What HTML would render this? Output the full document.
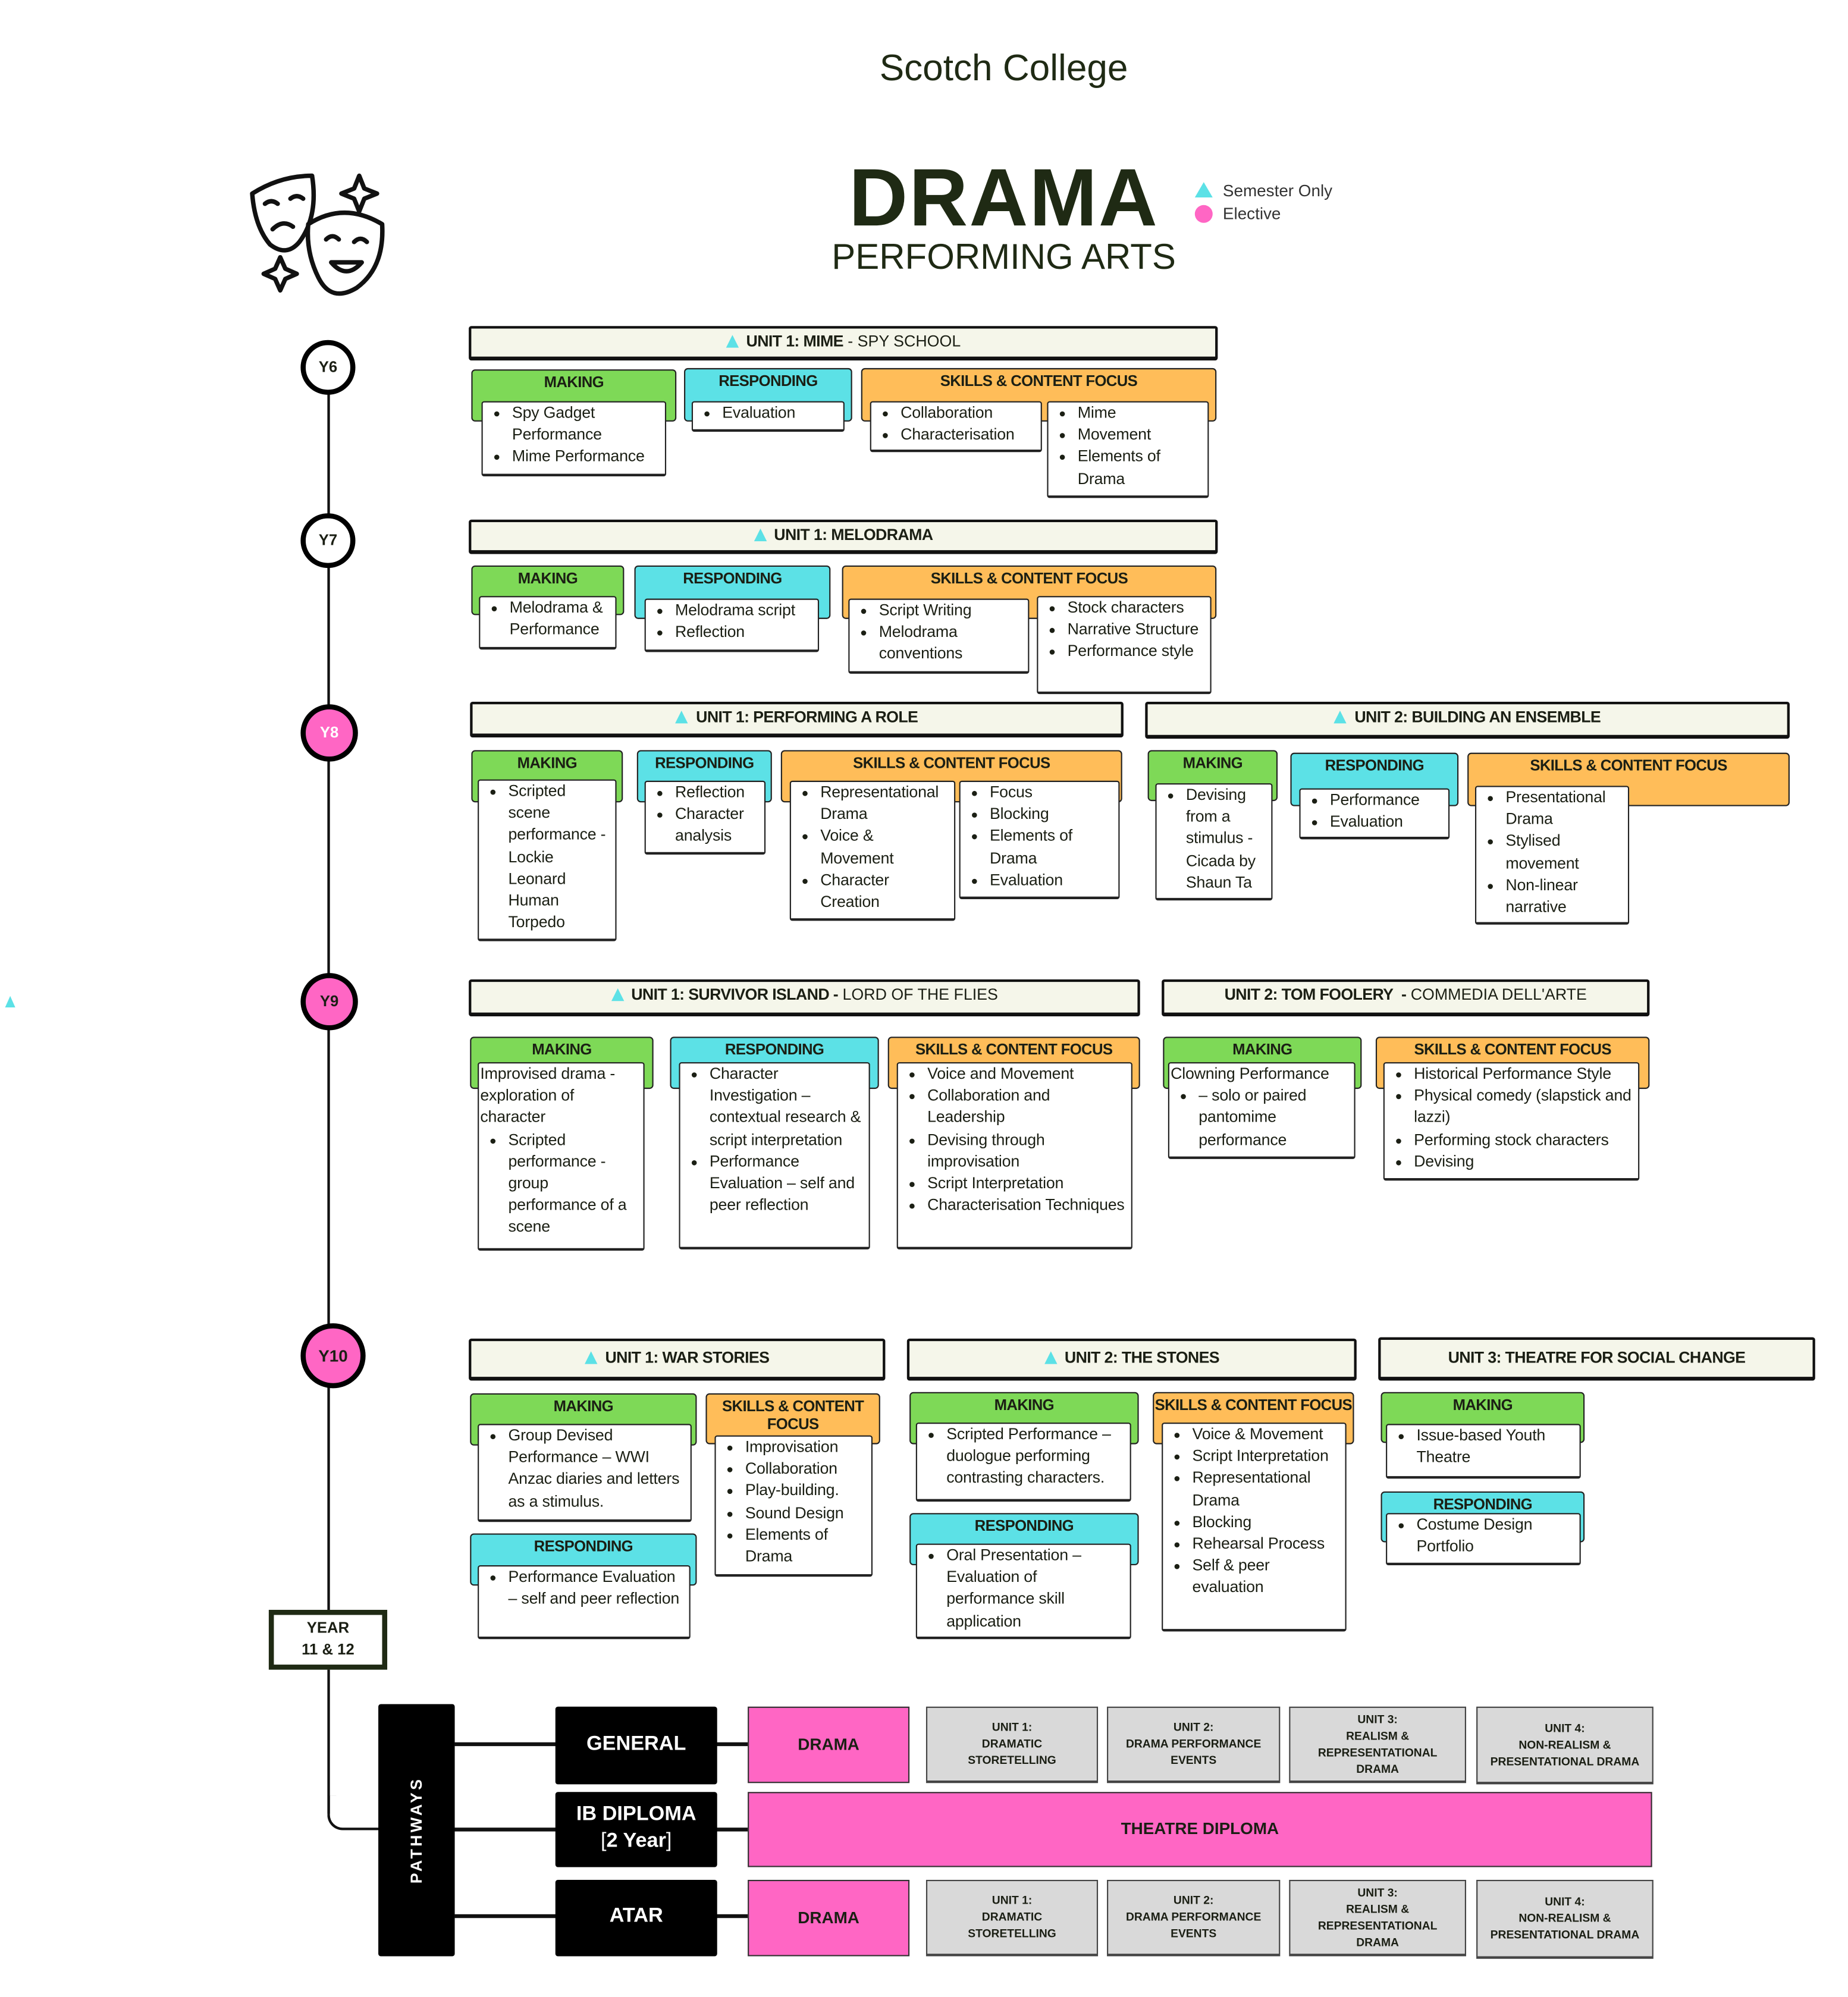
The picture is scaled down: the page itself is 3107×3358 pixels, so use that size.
<!DOCTYPE html>
<html><head><meta charset="utf-8"><style>
html,body{margin:0;padding:0;background:#fff;}
body{width:3107px;height:3358px;overflow:hidden;position:relative;}
#w{position:absolute;left:0;top:0;width:1451px;height:1568px;transform:scale(2.1416);transform-origin:0 0;font-family:"Liberation Sans",sans-serif;color:#1b1f14;}
.a{position:absolute;box-sizing:border-box;}
.u{position:absolute;box-sizing:border-box;background:#f5f6ea;border:2px solid #111;border-bottom-width:3px;border-radius:2px;text-align:center;font-size:12.5px;line-height:21px;white-space:nowrap;}
.u b{font-weight:bold;letter-spacing:-0.3px}
.tri{display:inline-block;width:0;height:0;border-left:5px solid transparent;border-right:5px solid transparent;border-bottom:10px solid #5ce1e6;margin-right:6px;vertical-align:-1px}
.h{position:absolute;box-sizing:border-box;border:1.5px solid #222;border-radius:3px;text-align:center;font-weight:bold;font-size:12px;padding-top:2px;letter-spacing:-0.3px;line-height:14px}
.g{background:#7ed957}.c{background:#5ce1e6}.o{background:#ffbd59}
.b{position:absolute;box-sizing:border-box;background:#fff;border:1px solid #222;border-bottom-width:2px;border-radius:2px;font-size:12.5px;line-height:17.2px;padding:0 3px 4px 3px;letter-spacing:-0.1px}
.b ul{margin:0;padding-left:20px}
.b li{margin:0}
.circ{position:absolute;box-sizing:border-box;border-radius:50%;border:4px solid #000;background:#fff;text-align:center;font-weight:bold;font-size:12px;}
.pk{background:#ff66c4}
.blk{position:absolute;background:#000;color:#fff;text-align:center;font-weight:bold;border-radius:2px;}
.pbox{position:absolute;box-sizing:border-box;background:#ff66c4;border:1.5px solid #333;text-align:center;font-weight:bold;font-size:13px;}
.gr{position:absolute;box-sizing:border-box;background:#d9d9d9;border:1.5px solid #444;border-bottom-width:2.5px;text-align:center;font-weight:bold;font-size:9px;line-height:13px;display:flex;align-items:center;justify-content:center;}
.ln{position:absolute;background:#111;}
</style></head><body><div id="w">

<div class="a" style="left:0;top:38px;width:1576px;text-align:center;font-size:29px;color:#1f2a14">Scotch College</div>
<div class="a" style="left:0;top:118px;width:1576px;text-align:center;font-size:64px;font-weight:bold;color:#1f2a14;letter-spacing:1px">DRAMA</div>
<div class="a" style="left:0;top:186px;width:1576px;text-align:center;font-size:28px;color:#1f2a14">PERFORMING ARTS</div>
<div class="a" style="left:938px;top:141px"><span class="tri" style="border-left-width:7px;border-right-width:7px;border-bottom-width:12px"></span></div>
<div class="a" style="left:960px;top:142px;font-size:13px;color:#333">Semester Only</div>
<div class="a" style="left:938px;top:161px;width:14px;height:14px;border-radius:50%;background:#ff66c4"></div>
<div class="a" style="left:960px;top:160px;font-size:13px;color:#333">Elective</div>

<svg class="a" style="left:190px;top:130px" width="125" height="110" viewBox="0 0 125 110">
<g fill="none" stroke="#111" stroke-width="3.5" stroke-linejoin="round" stroke-linecap="round">
<path d="M8 22 Q30 8 55 8 Q60 40 45 60 Q35 72 22 62 Q10 48 8 22Z"/>
<path d="M18 30 q5 -4 10 0 M38 26 q5 -4 10 0 M24 50 q8 -8 16 -2"/>
<path d="M52 46 Q80 28 110 46 Q112 80 90 96 Q70 108 60 88 Q50 68 52 46Z" fill="#fff"/>
<path d="M66 58 q5 -5 10 0 M88 60 q5 -5 10 0 M70 76 q12 14 24 0Z"/>
<path d="M92 8 l4 10 10 4 -10 4 -4 10 -4 -10 -10 -4 10 -4Z"/>
<path d="M30 72 l4 9 9 4 -9 4 -4 9 -4 -9 -9 -4 9 -4Z"/>
</g></svg>

<!-- timeline -->
<div class="ln" style="left:257px;top:290px;width:2px;height:980px"></div>
<div class="ln" style="left:257px;top:1308px;width:2px;height:116px"></div>
<div class="a" style="left:257px;top:1410px;width:44px;height:27px;border-left:2px solid #111;border-bottom:2px solid #111;border-bottom-left-radius:12px"></div>
<div class="a" style="left:4px;top:777px"><span class="tri" style="border-left-width:4px;border-right-width:4px;border-bottom-width:9px"></span></div>
<div class="circ" style="left:236px;top:267px;width:43px;height:43px;line-height:35px">Y6</div>
<div class="circ" style="left:236px;top:403px;width:43px;height:43px;line-height:35px">Y7</div>
<div class="circ pk" style="left:236px;top:553px;width:45px;height:45px;line-height:37px;color:#fff">Y8</div>
<div class="circ pk" style="left:236px;top:764px;width:45px;height:45px;line-height:37px">Y9</div>
<div class="circ pk" style="left:236px;top:1039px;width:51px;height:51px;line-height:43px;font-size:13px">Y10</div>
<div class="a" style="left:211px;top:1264px;width:93px;height:47px;border:4px solid #1f2a14;background:#fff;text-align:center;font-weight:bold;font-size:12px;line-height:17px;padding-top:2px">YEAR<br>11 &amp; 12</div>

<!-- Y6 -->
<div class="u" style="left:368px;top:256px;width:588px;height:27px"><span class="tri"></span><b>UNIT 1: MIME</b> - SPY SCHOOL</div>
<div class="h g" style="left:370px;top:290px;width:161px;height:41px">MAKING</div>
<div class="h c" style="left:537px;top:289px;width:132px;height:42px">RESPONDING</div>
<div class="h o" style="left:676px;top:289px;width:279px;height:42px">SKILLS &amp; CONTENT FOCUS</div>
<div class="b" style="left:378px;top:315px;width:145px;height:59px"><ul><li>Spy Gadget Performance</li><li>Mime Performance</li></ul></div>
<div class="b" style="left:543px;top:315px;width:120px;height:24px"><ul><li>Evaluation</li></ul></div>
<div class="b" style="left:683px;top:315px;width:135px;height:40px"><ul><li>Collaboration</li><li>Characterisation</li></ul></div>
<div class="b" style="left:822px;top:315px;width:127px;height:76px"><ul><li>Mime</li><li>Movement</li><li>Elements of Drama</li></ul></div>

<!-- Y7 -->
<div class="u" style="left:368px;top:408px;width:588px;height:27px"><span class="tri"></span><b>UNIT 1: MELODRAMA</b></div>
<div class="h g" style="left:370px;top:444px;width:120px;height:39px">MAKING</div>
<div class="h c" style="left:498px;top:444px;width:154px;height:42px">RESPONDING</div>
<div class="h o" style="left:661px;top:444px;width:294px;height:42px">SKILLS &amp; CONTENT FOCUS</div>
<div class="b" style="left:376px;top:468px;width:108px;height:42px"><ul><li>Melodrama &amp; Performance</li></ul></div>
<div class="b" style="left:506px;top:470px;width:137px;height:42px"><ul><li>Melodrama script</li><li>Reflection</li></ul></div>
<div class="b" style="left:666px;top:470px;width:142px;height:59px"><ul><li>Script Writing</li><li>Melodrama conventions</li></ul></div>
<div class="b" style="left:814px;top:468px;width:137px;height:77px"><ul><li>Stock characters</li><li>Narrative Structure</li><li>Performance style</li></ul></div>

<!-- Y8 -->
<div class="u" style="left:369px;top:551px;width:513px;height:28px"><span class="tri"></span><b>UNIT 1: PERFORMING A ROLE</b></div>
<div class="u" style="left:899px;top:551px;width:506px;height:29px"><span class="tri"></span><b>UNIT 2: BUILDING AN ENSEMBLE</b></div>
<div class="h g" style="left:370px;top:589px;width:119px;height:41px">MAKING</div>
<div class="h c" style="left:500px;top:589px;width:106px;height:41px">RESPONDING</div>
<div class="h o" style="left:613px;top:589px;width:268px;height:41px">SKILLS &amp; CONTENT FOCUS</div>
<div class="b" style="left:375px;top:612px;width:109px;height:127px"><ul><li>Scripted scene performance - Lockie Leonard Human Torpedo</li></ul></div>
<div class="b" style="left:506px;top:613px;width:95px;height:58px"><ul><li>Reflection</li><li>Character analysis</li></ul></div>
<div class="b" style="left:620px;top:613px;width:130px;height:110px"><ul><li>Representational Drama</li><li>Voice &amp; Movement</li><li>Character Creation</li></ul></div>
<div class="b" style="left:753px;top:613px;width:126px;height:93px"><ul><li>Focus</li><li>Blocking</li><li>Elements of Drama</li><li>Evaluation</li></ul></div>
<div class="h g" style="left:901px;top:589px;width:102px;height:40px">MAKING</div>
<div class="h c" style="left:1013px;top:591px;width:132px;height:42px">RESPONDING</div>
<div class="h o" style="left:1152px;top:591px;width:253px;height:42px">SKILLS &amp; CONTENT FOCUS</div>
<div class="b" style="left:907px;top:615px;width:92px;height:92px"><ul><li>Devising from a stimulus - Cicada by Shaun Ta</li></ul></div>
<div class="b" style="left:1020px;top:619px;width:118px;height:40px"><ul><li>Performance</li><li>Evaluation</li></ul></div>
<div class="b" style="left:1158px;top:617px;width:121px;height:109px"><ul><li>Presentational Drama</li><li>Stylised movement</li><li>Non-linear narrative</li></ul></div>

<!-- Y9 -->
<div class="u" style="left:368px;top:769px;width:527px;height:29px"><span class="tri"></span><b>UNIT 1: SURVIVOR ISLAND -</b> LORD OF THE FLIES</div>
<div class="u" style="left:912px;top:769px;width:383px;height:29px"><b>UNIT 2: TOM FOOLERY&nbsp; -</b> COMMEDIA DELL'ARTE</div>
<div class="h g" style="left:369px;top:814px;width:144px;height:41px">MAKING</div>
<div class="h c" style="left:526px;top:814px;width:164px;height:41px">RESPONDING</div>
<div class="h o" style="left:697px;top:814px;width:198px;height:41px">SKILLS &amp; CONTENT FOCUS</div>
<div class="b" style="left:375px;top:834px;width:131px;height:148px;padding-left:1px">Improvised drama - exploration of character<ul style="padding-left:22px"><li>Scripted performance - group performance of a scene</li></ul></div>
<div class="b" style="left:533px;top:834px;width:150px;height:147px"><ul><li>Character Investigation – contextual research &amp; script interpretation</li><li>Performance Evaluation – self and peer reflection</li></ul></div>
<div class="b" style="left:704px;top:834px;width:185px;height:147px"><ul><li>Voice and Movement</li><li>Collaboration and Leadership</li><li>Devising through improvisation</li><li>Script Interpretation</li><li>Characterisation Techniques</li></ul></div>
<div class="h g" style="left:913px;top:814px;width:156px;height:41px">MAKING</div>
<div class="h o" style="left:1080px;top:814px;width:215px;height:41px">SKILLS &amp; CONTENT FOCUS</div>
<div class="b" style="left:917px;top:834px;width:147px;height:76px;padding-left:1px">Clowning Performance<ul style="padding-left:22px"><li>– solo or paired pantomime performance</li></ul></div>
<div class="b" style="left:1086px;top:834px;width:201px;height:93px"><ul><li>Historical Performance Style</li><li>Physical comedy (slapstick and lazzi)</li><li>Performing stock characters</li><li>Devising</li></ul></div>

<!-- Y10 -->
<div class="u" style="left:368px;top:1051px;width:327px;height:33px;line-height:27px"><span class="tri"></span><b>UNIT 1: WAR STORIES</b></div>
<div class="u" style="left:712px;top:1051px;width:353px;height:33px;line-height:27px"><span class="tri"></span><b>UNIT 2: THE STONES</b></div>
<div class="u" style="left:1082px;top:1050px;width:343px;height:34px;line-height:28px"><b>UNIT 3: THEATRE FOR SOCIAL CHANGE</b></div>
<div class="h g" style="left:369px;top:1094px;width:178px;height:41px">MAKING</div>
<div class="h c" style="left:369px;top:1204px;width:178px;height:41px">RESPONDING</div>
<div class="h o" style="left:554px;top:1094px;width:137px;height:40px;line-height:14px">SKILLS &amp; CONTENT<br>FOCUS</div>
<div class="b" style="left:375px;top:1118px;width:168px;height:77px"><ul><li>Group Devised Performance – WWI Anzac diaries and letters as a stimulus.</li></ul></div>
<div class="b" style="left:375px;top:1229px;width:167px;height:58px"><ul><li>Performance Evaluation – self and peer reflection</li></ul></div>
<div class="b" style="left:561px;top:1127px;width:124px;height:111px"><ul><li>Improvisation</li><li>Collaboration</li><li>Play-building.</li><li>Sound Design</li><li>Elements of Drama</li></ul></div>
<div class="h g" style="left:714px;top:1093px;width:180px;height:41px">MAKING</div>
<div class="h c" style="left:714px;top:1188px;width:180px;height:41px">RESPONDING</div>
<div class="h o" style="left:905px;top:1093px;width:158px;height:41px">SKILLS &amp; CONTENT FOCUS</div>
<div class="b" style="left:719px;top:1117px;width:169px;height:62px"><ul><li>Scripted Performance – duologue performing contrasting characters.</li></ul></div>
<div class="b" style="left:719px;top:1212px;width:169px;height:75px"><ul><li>Oral Presentation – Evaluation of performance skill application</li></ul></div>
<div class="b" style="left:912px;top:1117px;width:145px;height:164px"><ul><li>Voice &amp; Movement</li><li>Script Interpretation</li><li>Representational Drama</li><li>Blocking</li><li>Rehearsal Process</li><li>Self &amp; peer evaluation</li></ul></div>
<div class="h g" style="left:1084px;top:1093px;width:160px;height:40px">MAKING</div>
<div class="h c" style="left:1084px;top:1171px;width:160px;height:40px">RESPONDING</div>
<div class="b" style="left:1088px;top:1118px;width:153px;height:43px"><ul><li>Issue-based Youth Theatre</li></ul></div>
<div class="b" style="left:1088px;top:1188px;width:153px;height:41px"><ul><li>Costume Design Portfolio</li></ul></div>

<!-- Pathways -->
<div class="ln" style="left:357px;top:1368px;width:230px;height:3px"></div>
<div class="ln" style="left:300px;top:1435px;width:287px;height:3px"></div>
<div class="ln" style="left:357px;top:1503px;width:230px;height:3px"></div>
<div class="blk" style="left:297px;top:1338px;width:60px;height:198px"></div>
<div class="a" style="left:327px;top:1437px;transform:translate(-50%,-50%) rotate(-90deg);color:#fff;font-weight:bold;font-size:12.5px;letter-spacing:2px;white-space:nowrap">PATHWAYS</div>
<div class="blk" style="left:436px;top:1340px;width:127px;height:61px;line-height:59px;font-size:16px">GENERAL</div>
<div class="blk" style="left:436px;top:1407px;width:127px;height:59px;font-size:16px;line-height:21px;padding-top:7px;box-sizing:border-box">IB DIPLOMA<br><span style="font-weight:normal">[</span>2 Year<span style="font-weight:normal">]</span></div>
<div class="blk" style="left:436px;top:1476px;width:127px;height:60px;line-height:58px;font-size:16px">ATAR</div>
<div class="pbox" style="left:587px;top:1340px;width:127px;height:60px;line-height:57px">DRAMA</div>
<div class="pbox" style="left:587px;top:1407px;width:710px;height:59px;line-height:56px">THEATRE DIPLOMA</div>
<div class="pbox" style="left:587px;top:1476px;width:127px;height:60px;line-height:57px">DRAMA</div>
<div class="gr" style="left:727px;top:1340px;width:135px;height:60px">UNIT 1:<br>DRAMATIC<br>STORETELLING</div>
<div class="gr" style="left:869px;top:1340px;width:136px;height:60px">UNIT 2:<br>DRAMA PERFORMANCE<br>EVENTS</div>
<div class="gr" style="left:1012px;top:1340px;width:139px;height:60px">UNIT 3:<br>REALISM &amp;<br>REPRESENTATIONAL<br>DRAMA</div>
<div class="gr" style="left:1159px;top:1340px;width:139px;height:61px">UNIT 4:<br>NON-REALISM &amp;<br>PRESENTATIONAL DRAMA</div>
<div class="gr" style="left:727px;top:1476px;width:135px;height:60px">UNIT 1:<br>DRAMATIC<br>STORETELLING</div>
<div class="gr" style="left:869px;top:1476px;width:136px;height:60px">UNIT 2:<br>DRAMA PERFORMANCE<br>EVENTS</div>
<div class="gr" style="left:1012px;top:1476px;width:139px;height:60px">UNIT 3:<br>REALISM &amp;<br>REPRESENTATIONAL<br>DRAMA</div>
<div class="gr" style="left:1159px;top:1476px;width:139px;height:62px">UNIT 4:<br>NON-REALISM &amp;<br>PRESENTATIONAL DRAMA</div>

</div></body></html>
